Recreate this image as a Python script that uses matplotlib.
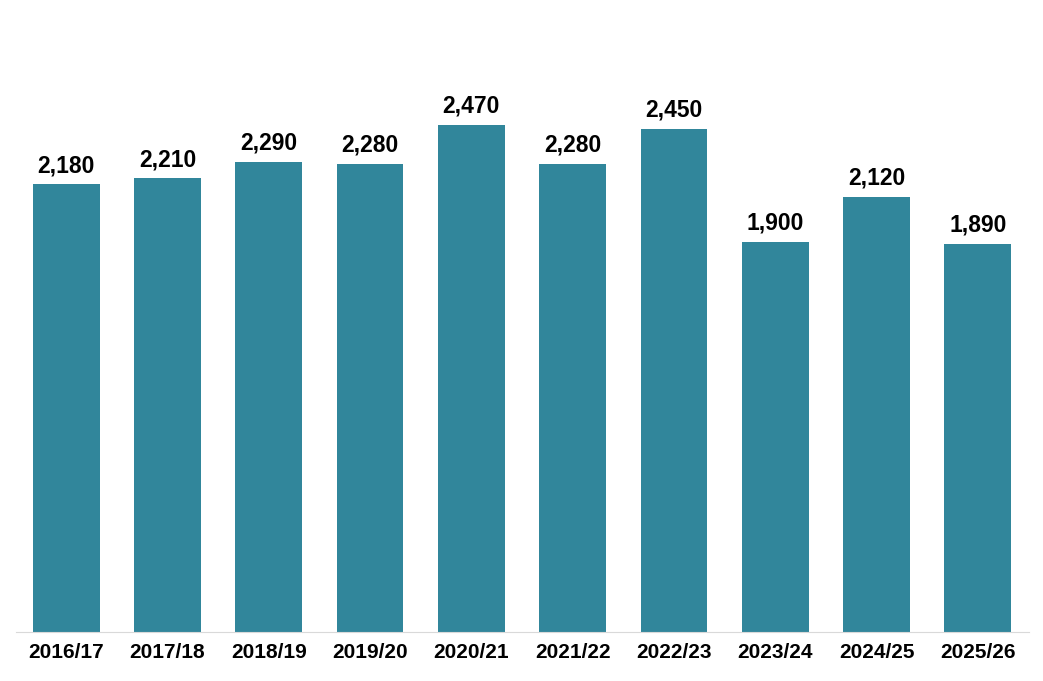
import matplotlib.pyplot as plt

years = ["2016/17", "2017/18", "2018/19", "2019/20", "2020/21",
         "2021/22", "2022/23", "2023/24", "2024/25", "2025/26"]
values = [2180, 2210, 2290, 2280, 2470, 2280, 2450, 1900, 2120, 1890]

plt.rcParams['font.family'] = ['Liberation Sans', 'DejaVu Sans']

fig = plt.figure(figsize=(10.43, 6.81), dpi=100)
ax = fig.add_axes([15.5 / 1043, 49 / 681, 1013 / 1043, 616 / 681])
bars = ax.bar(range(len(years)), values, width=0.66, color="#31869B")
for b, v in zip(bars, values):
    ax.annotate("{:,}".format(v), xy=(b.get_x() + b.get_width() / 2, v),
                xytext=(0, 5), textcoords="offset points",
                ha='center', va='bottom', fontsize=16.5, fontweight='bold')

ax.set_xlim(-0.5, len(years) - 0.5)
ax.set_ylim(0, 3000)
ax.set_xticks(range(len(years)))
ax.set_xticklabels(years, fontsize=15, fontweight='bold')
ax.tick_params(axis='x', length=0, pad=8)
ax.set_yticks([])
for s in ['top', 'right', 'left']:
    ax.spines[s].set_visible(False)
ax.spines['bottom'].set_color('#d9d9d9')

fig.savefig("out.png", dpi=100)
